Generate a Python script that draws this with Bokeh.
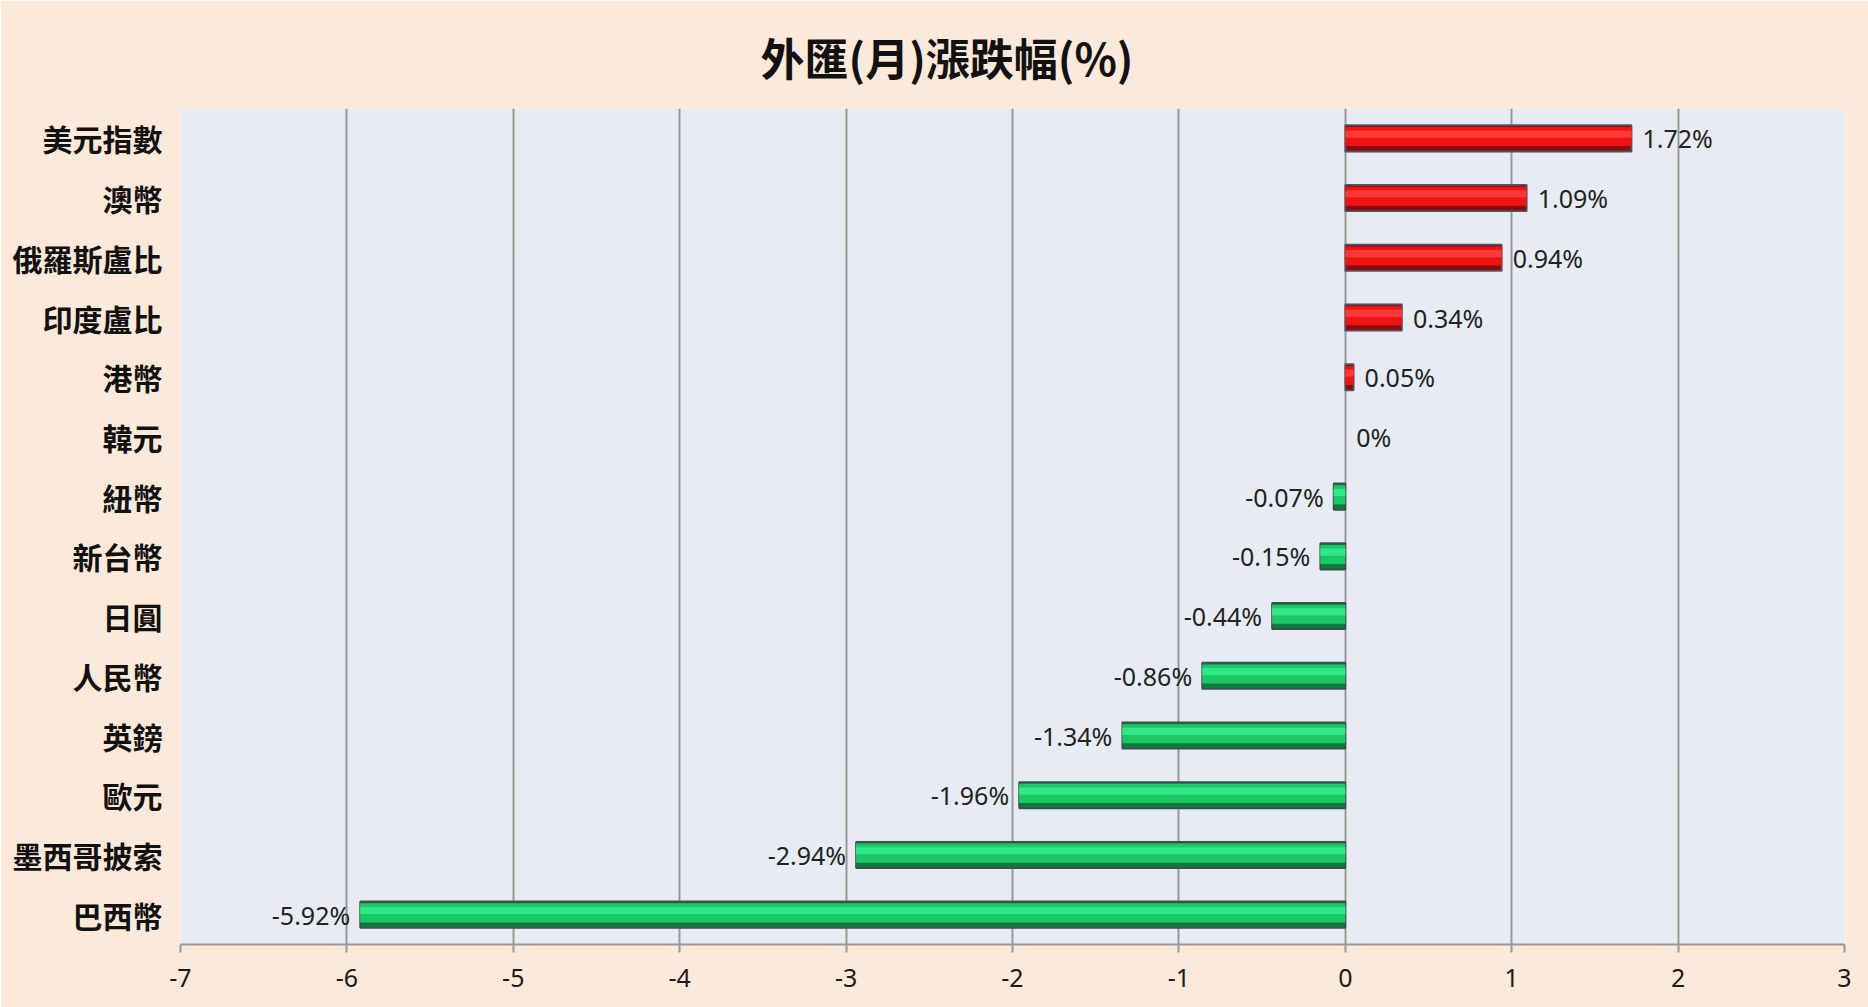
from bokeh.plotting import figure
from bokeh.models import ColumnDataSource, FactorRange, Range1d, FixedTicker, Title, CustomJSTickFormatter
from bokeh.transform import dodge
from bokeh.core.properties import value
from bokeh.embed import file_html
from bokeh.resources import INLINE

# ---- data (top to bottom as in the chart) ----
currencies = ["美元指數", "澳幣", "俄羅斯盧比", "印度盧比", "港幣", "韓元", "紐幣",
              "新台幣", "日圓", "人民幣", "英鎊", "歐元", "墨西哥披索", "巴西幣"]
changes = [1.72, 1.09, 0.94, 0.34, 0.05, 0.0, -0.07, -0.15, -0.44, -0.86, -1.34, -1.96, -2.94, -5.92]
x_ticks = [-7, -6, -5, -4, -3, -2, -1, 0, 1, 2, 3]
title_text = "外匯(月)漲跌幅(%)"


def fmt(v):
    s = ("%.2f" % v).rstrip("0").rstrip(".")
    return s + "%"


labels = [fmt(v) for v in changes]

pos = dict(cat=[c for c, v in zip(currencies, changes) if v > 0],
           val=[v for v in changes if v > 0])
neg = dict(cat=[c for c, v in zip(currencies, changes) if v < 0],
           val=[v for v in changes if v < 0])
lab_pos = dict(cat=[c for c, v in zip(currencies, changes) if v >= 0],
               val=[v for v in changes if v >= 0],
               txt=[l for l, v in zip(labels, changes) if v >= 0])
lab_neg = dict(cat=[c for c, v in zip(currencies, changes) if v < 0],
               val=[v for v in changes if v < 0],
               txt=[l for l, v in zip(labels, changes) if v < 0])

src_pos = ColumnDataSource(pos)
src_neg = ColumnDataSource(neg)
src_lpos = ColumnDataSource(lab_pos)
src_lneg = ColumnDataSource(lab_neg)

p = figure(
    y_range=FactorRange(factors=list(reversed(currencies)), range_padding=0),
    x_range=Range1d(-7, 3),
    frame_width=1664, frame_height=836,
    min_border_left=180, min_border_right=24, min_border_top=108, min_border_bottom=63,
    output_backend="svg", toolbar_location=None,
)
p.background_fill_color = "#E7ECF4"
p.border_fill_color = "#FDE9D9"
p.outline_line_color = None

# title (left-aligned with an offset so that it sits centred over the whole chart)
p.title = Title(text=title_text, align="left", offset=580, standoff=40,
                text_font="Noto Sans CJK TC", text_font_size="44px",
                text_font_style="bold", text_color="#111111")

# grid
p.xgrid.ticker = FixedTicker(ticks=x_ticks)
p.xgrid.grid_line_color = "#989898"
p.xgrid.grid_line_width = 2
p.ygrid.grid_line_color = None

# x axis
p.xaxis.ticker = FixedTicker(ticks=x_ticks)
p.xaxis.formatter = CustomJSTickFormatter(code="return tick.toString();")
p.xaxis.axis_line_color = "#989898"
p.xaxis.axis_line_width = 2
p.xaxis.major_tick_line_color = "#989898"
p.xaxis.major_tick_line_width = 2
p.xaxis.major_tick_out = 8
p.xaxis.major_tick_in = 0
p.xaxis.minor_tick_line_color = None
p.xaxis.major_label_text_font = "Noto Sans"
p.xaxis.major_label_text_font_size = "25px"
p.xaxis.major_label_text_color = "#1a1a1a"
p.xaxis.major_label_standoff = 16

# y axis
p.yaxis.axis_line_color = None
p.yaxis.major_tick_line_color = None
p.yaxis.minor_tick_line_color = None
p.yaxis.major_label_text_font = "Noto Sans CJK TC"
p.yaxis.major_label_text_font_size = "30px"
p.yaxis.major_label_text_font_style = "bold"
p.yaxis.major_label_text_color = "#111111"
p.yaxis.major_label_standoff = 12

# bars with a bevelled look
def bars(src, dark, mid, light, border):
    p.hbar(y="cat", left=0, right="val", height=0.44, source=src,
           fill_color=dark, line_color=border, line_width=1.8)
    p.hbar(y=dodge("cat", 0.03, range=p.y_range), left=0, right="val", height=0.32, source=src,
           fill_color=mid, line_color=None)
    p.hbar(y=dodge("cat", 0.07, range=p.y_range), left=0, right="val", height=0.12, source=src,
           fill_color=light, line_color=None)


bars(src_pos, "#8E0A0A", "#EE1414", "#FF3838", "#4B5566")
bars(src_neg, "#0E7A3E", "#1CC765", "#30E888", "#3E4E50")

# value labels
p.text(x="val", y="cat", text="txt", source=src_lpos, x_offset=11,
       text_align="left", text_baseline="middle",
       text_font=value("Noto Sans"), text_font_size="25px", text_color="#222222")
p.text(x="val", y="cat", text="txt", source=src_lneg, x_offset=-10,
       text_align="right", text_baseline="middle",
       text_font=value("Noto Sans"), text_font_size="25px", text_color="#222222")

open("out.html", "w").write(file_html(p, INLINE))
